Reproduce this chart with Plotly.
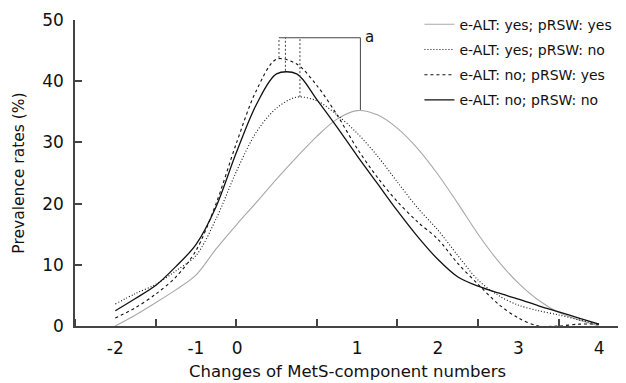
import plotly.graph_objects as go

# ---- data ----
x_vals = [-2, -1.75, -1.5, -1.25, -1, -0.75, -0.5, -0.25, 0, 0.25, 0.5, 0.75,
          1.0, 1.25, 1.5, 1.75, 2.0, 2.25, 2.5, 2.75, 3.0, 3.25, 3.5, 3.75, 4.0]

yes_yes = [0, 1.8, 3.8, 5.9, 8.3, 12.6, 16.5, 20.2, 24.0, 27.6, 31.0, 33.8,
           35.2, 34.5, 32.3, 29.0, 24.8, 20.0, 15.0, 10.6, 7.0, 4.2, 2.2, 1.0, 0]
yes_no = [3.6, 5.3, 6.8, 9.0, 11.5, 17.5, 25.2, 31.7, 35.6, 37.4, 36.8, 34.5,
          31.5, 27.8, 23.5, 19.3, 15.7, 11.5, 7.5, 5.0, 3.4, 2.5, 1.8, 1.0, 0.3]
no_yes = [1.3, 3.0, 5.2, 8.0, 12.3, 20.0, 29.8, 38.5, 43.6, 42.8, 39.3, 34.5,
          29.0, 24.3, 20.3, 17.0, 14.2, 10.2, 6.8, 3.6, 1.3, 0.0, 0.0, 0.3, 0.3]
no_no = [2.5, 4.5, 6.6, 9.7, 13.3, 19.5, 28.3, 36.2, 41.2, 41.2, 37.0, 32.5,
         27.8, 23.3, 18.8, 14.6, 10.9, 8.0, 6.5, 5.4, 4.4, 3.3, 2.3, 1.3, 0.3]

series_names = ["e-ALT: yes; pRSW: yes", "e-ALT: yes; pRSW: no",
                "e-ALT: no; pRSW: yes", "e-ALT: no; pRSW: no"]

# peak locations used for the significance bracket
peak_x = [1.04, 0.29, 0.03, 0.11]
peak_y = [35.3, 37.4, 43.8, 41.7]
bracket_top = 47.1
bracket_label = "a"

x_tick_vals = [-2, -1, -0.49, 1, 2, 3, 4]
x_tick_text = ["-2", "-1", "0", "1", "2", "3", "4"]
y_tick_vals = [0, 10, 20, 30, 40, 50]

# ---- figure ----
styles = [
    dict(color="#a8a8a8", width=1.1, dash="solid"),
    dict(color="#111111", width=1.1, dash="1px,2px"),
    dict(color="#111111", width=1.1, dash="3px,3px"),
    dict(color="#111111", width=1.3, dash="solid"),
]
data_series = [yes_yes, yes_no, no_yes, no_no]

fig = go.Figure()
for i, (name, ys) in enumerate(zip(series_names, data_series)):
    fig.add_trace(go.Scatter(
        x=x_vals, y=ys, mode="lines", name=name,
        line=dict(shape="spline", smoothing=0.9, **styles[i]),
        legendgroup=f"g{i}", showlegend=True,
    ))

# bracket
bracket_dash = ["solid", "2px,2px", "2px,2px", "2px,2px"]
for px, py, d in zip(peak_x, peak_y, bracket_dash):
    fig.add_shape(type="line", x0=px, x1=px, y0=py, y1=bracket_top,
                  xref="x", yref="y", line=dict(color="#444444", width=1, dash=d))
fig.add_shape(type="line", x0=min(peak_x), x1=max(peak_x), y0=bracket_top, y1=bracket_top,
              xref="x", yref="y", line=dict(color="#444444", width=1.2))
fig.add_annotation(x=max(peak_x), y=bracket_top, text=bracket_label, showarrow=False,
                   xanchor="left", yanchor="middle", xshift=3, yshift=1,
                   font=dict(size=15, color="#111111", family="DejaVu Sans"))

fig.update_layout(
    width=618, height=375,
    margin=dict(l=67, r=6, t=12, b=57, autoexpand=False),
    paper_bgcolor="white", plot_bgcolor="white",
    font=dict(family="DejaVu Sans", color="#111111"),
    showlegend=True,
    legend=dict(x=0.632, y=1.037, xanchor="left", yanchor="top",
                font=dict(size=14, family="DejaVu Sans", color="#111111"),
                bgcolor="rgba(0,0,0,0)", traceorder="grouped", tracegroupgap=4),
    xaxis=dict(range=[-2.5, 4.26], showline=True, linecolor="#444444", linewidth=1.5,
               zeroline=False, showgrid=False, automargin=False,
               tickmode="array", tickvals=x_tick_vals, ticktext=x_tick_text,
               ticks="", tickfont=dict(size=17), ticklabelstandoff=6,
               minor=dict(tick0=-1.5, dtick=1, ticks="inside", ticklen=7,
                          tickcolor="#444444", tickwidth=1.5, showgrid=False),
               title=dict(text="Changes of MetS-component numbers",
                          font=dict(size=16.5), standoff=8)),
    yaxis=dict(range=[0, 50], showline=True, linecolor="#444444", linewidth=1.5,
               zeroline=False, showgrid=False, automargin=False,
               tickmode="array", tickvals=y_tick_vals,
               ticks="inside", ticklen=7, tickcolor="#444444", tickwidth=1.5,
               tickfont=dict(size=17), ticklabelstandoff=6,
               title=dict(text="Prevalence rates (%)", font=dict(size=15.5), standoff=14)),
)

fig.write_html("out.html")
